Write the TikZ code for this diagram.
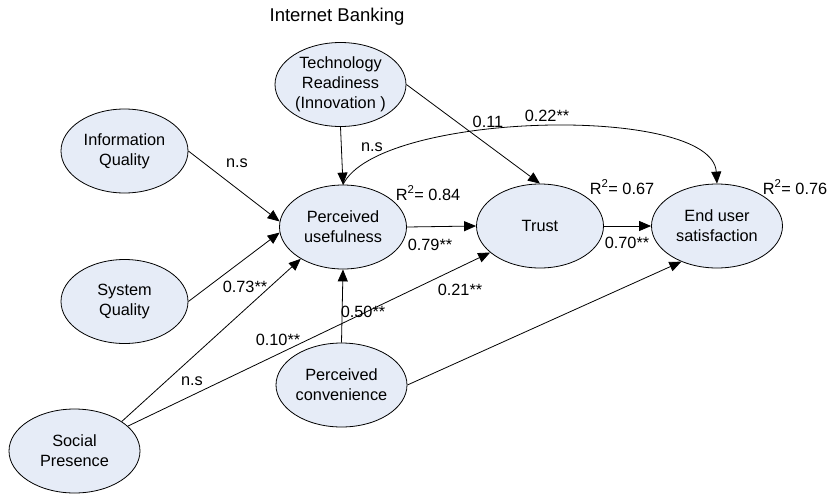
\documentclass[tikz,border=0pt]{standalone}
\usepackage{fontspec}
\setmainfont{Liberation Sans}
\usetikzlibrary{shapes.geometric, arrows.meta}
\definecolor{bgLatent}{HTML}{E6ECF7}
\definecolor{borderMain}{HTML}{000000}
\definecolor{textMain}{HTML}{000000}
\tikzset{
  construct/.style={ellipse, draw=borderMain, fill=bgLatent, line width=0.8pt,
    minimum width=127pt, minimum height=84pt, inner sep=0pt,
    font=\fontsize{16.3}{20}\selectfont, text=textMain, align=center},
  wideconstruct/.style={construct, minimum width=131pt},
  stdarrow/.style={-{Triangle[length=12pt, width=10pt]}, line width=0.8pt, color=borderMain},
  coef/.style={font=\fontsize{16.3}{20}\selectfont, text=textMain, inner sep=1pt},
}
\begin{document}
\begin{tikzpicture}[x=1pt, y=-1pt]
  \useasboundingbox (0,0) rectangle (830,493);

  % === Title ===
  \node[coef, font=\fontsize{18.5}{22}\selectfont] (title) at (337,17) {Internet Banking};

  % === Constructs ===
  \node[wideconstruct] (tr) at (340.5,84.5) {Technology\\Readiness\\(Innovation )};
  \node[construct] (iq) at (124.5,151) {Information\\Quality};
  \node[construct] (sq) at (124.5,301.5) {System\\Quality};
  \node[wideconstruct] (sp) at (74.5,451) {Social\\Presence};
  \node[construct] (pu) at (343,227) {Perceived\\usefulness};
  \node[wideconstruct] (pc) at (341.5,385) {Perceived\\convenience};
  \node[construct] (trust) at (540,226) {Trust};
  \node[wideconstruct] (eus) at (717,226) {End user\\satisfaction};

  % === Paths into perceived usefulness ===
  \draw[stdarrow] (iq.east) -- (pu.175);
  \draw[stdarrow] (sq.east) -- (pu.185);
  \draw[stdarrow] (sp.32) -- (pu.217);
  \draw[stdarrow] (tr.south) -- (pu.north);
  \draw[stdarrow] (pc.north) -- (pu.south);

  % === Paths into trust ===
  \draw[stdarrow] (tr.east) -- (trust.north);
  \draw[stdarrow] (pu.east) -- (trust.west);
  \draw[stdarrow] (sp.25) -- (trust.208);

  % === Paths into end user satisfaction ===
  \draw[stdarrow] (trust.east) -- (eus.west);
  \draw[stdarrow] (pc.east) -- (eus.225);
  \draw[stdarrow] (pu.north) .. controls +(35,-73) and +(-5,-80) .. (eus.north);

  % === Coefficients and R^2 ===
  \node[coef] (ciq) at (237,163) {n.s};
  \node[coef] (ctr) at (372,147) {n.s};
  \node[coef] (ctrt) at (488,122) {0.11};
  \node[coef] (cpue) at (547,116) {0.22**};
  \node[coef] (rpu) at (428,193) {R\textsuperscript{2}= 0.84};
  \node[coef] (cput) at (430,245) {0.79**};
  \node[coef] (rtrust) at (622,187) {R\textsuperscript{2}= 0.67};
  \node[coef] (ctre) at (627,243) {0.70**};
  \node[coef] (reus) at (795,187) {R\textsuperscript{2}= 0.76};
  \node[coef] (csq) at (245,287) {0.73**};
  \node[coef] (cpc) at (363,312) {0.50**};
  \node[coef] (cspt) at (278,340) {0.10**};
  \node[coef] (csp) at (192,381) {n.s};
  \node[coef] (cpce) at (460,290) {0.21**};

\end{tikzpicture}
\end{document}
